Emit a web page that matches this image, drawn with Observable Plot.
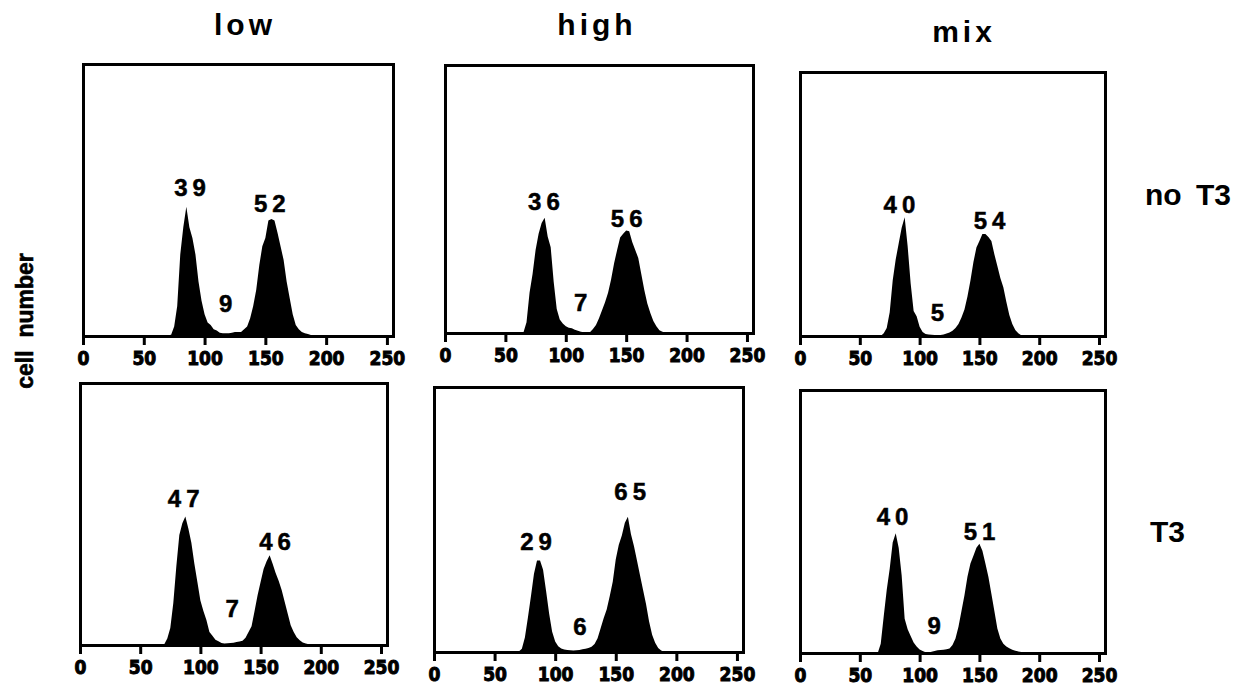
<!DOCTYPE html>
<html>
<head>
<meta charset="utf-8">
<script src="https://cdn.jsdelivr.net/npm/d3@7"></script>
<script src="https://cdn.jsdelivr.net/npm/@observablehq/plot@0.6"></script>
<style>
  html, body { margin: 0; padding: 0; background: #fff; }
  #root { position: relative; width: 1236px; height: 693px; overflow: hidden; background: #fff; color: #000;
          font-family: "Liberation Sans", Arial, sans-serif; font-weight: bold; }
  .panel { position: absolute; }
  .t { position: absolute; white-space: pre; line-height: 1; font-weight: bold; }
  .col { font-size: 30px; letter-spacing: 4px; transform: translateX(-50%); padding-left: 4px; }
  .row { font-size: 30px; word-spacing: 6px; }
  .ylab { font-size: 23px; transform: translate(-50%, -50%) rotate(-90deg); -webkit-text-stroke: 0.6px #000; }
  .panel svg g[aria-label="x-axis tick"] path, .panel svg .tick line { stroke-width: 3px; }
  .panel svg g[aria-label="x-axis tick label"] text, .panel svg .tick text {
      font-family: "Liberation Sans Narrow", "DejaVu Sans Condensed", sans-serif; font-size: 19px; font-weight: bold;
      stroke: #000; stroke-width: 0.9px; }
  .panel svg g[aria-label="text"] text { letter-spacing: 5px; stroke: #000; stroke-width: 0.5px; }
</style>
</head>
<body>
<div id="root"></div>
<script>
// ---- data ----
const columns = ["low", "high", "mix"];
const rows = ["no T3", "T3"];
const yTitle = "cell  number";
const xTicks = [0, 50, 100, 150, 200, 250];

// DNA-content channel (bin positions)
const channel = [60, 62.5, 65, 67.5, 70, 72.5, 75, 77.5, 80, 82.5,
                 85, 87.5, 90, 92.5, 95, 97.5, 100, 102.5, 105, 107.5,
                 110, 112.5, 115, 117.5, 120, 122.5, 125, 127.5, 130, 132.5,
                 135, 137.5, 140, 142.5, 145, 147.5, 150, 152.5, 155, 157.5,
                 160, 162.5, 165, 167.5, 170, 172.5, 175, 177.5, 180, 182.5,
                 185, 187.5, 190, 192.5, 195, 197.5, 200];

// cell number (as % of panel height)
const lowNoT3 = [0, 0, 0, 0, 0.3, 0.5, 3.5, 11, 30, 40,
                 47.5, 40, 36, 30, 20, 13, 8, 5, 4, 2.5,
                 2, 1.2, 1, 1, 1, 1.2, 1.5, 1.5, 1.5, 2.5,
                 3.5, 6.5, 11, 17, 26, 33, 36, 42.5, 43, 42.5,
                 38, 33, 28, 20, 14, 8, 4, 2.5, 1.5, 1,
                 0.7, 0.4, 0.2, 0, 0, 0, 0];
const highNoT3 = [0, 0, 0.3, 4, 15, 22, 31, 37, 41, 43,
                  36, 32, 19, 9, 5, 3.5, 2.5, 2, 1.8, 1.2,
                  0.8, 0.5, 0.3, 0.3, 0.3, 1.5, 3, 5.5, 8.5, 11.5,
                  15, 20, 26, 31, 35.6, 37, 38.2, 38, 34, 31,
                  28, 22, 16, 11, 7.5, 4.5, 2.5, 1, 0.5, 0.2,
                  0, 0, 0, 0, 0, 0, 0];
const mixNoT3 = [0, 0, 0, 0, 1, 3, 9, 21, 29, 35,
                 41, 45, 34, 20, 9.5, 7.5, 3.5, 1.5, 0.8, 0.6,
                 0.5, 0.4, 0.4, 0.4, 0.6, 0.9, 1.3, 2, 3, 4.5,
                 7, 10, 15, 21, 28, 33.5, 36, 38.6, 38.6, 37.5,
                 36, 31, 26.5, 22, 18.5, 13, 8, 4.5, 2.3, 1,
                 0.3, 0, 0, 0, 0, 0, 0];
const lowT3 = [0, 0, 0, 0, 0.3, 2.5, 6.5, 16, 30, 42,
               46.5, 49, 44.5, 39, 31, 24, 17, 13, 9.5, 5,
               3.5, 2, 1.4, 0.8, 0.6, 0.7, 0.8, 0.9, 1.1, 1.3,
               1.6, 2.8, 5, 7.2, 13, 19, 24, 29, 32, 34.3,
               31, 27.5, 24.5, 21, 16.5, 12, 7.5, 5, 3, 1.8,
               1, 0.6, 0.3, 0, 0, 0, 0];
const highT3 = [0, 0, 0, 0, 0.2, 1.2, 5.5, 13, 21, 29.5,
                34.5, 34.5, 31, 23, 14.5, 7.6, 4, 2.2, 1.3, 0.9,
                0.8, 0.7, 0.6, 0.7, 0.8, 1, 1.2, 1.5, 2, 3,
                5.2, 9, 12.7, 16, 21, 26.5, 35, 40.5, 44, 48.8,
                51, 44.5, 40, 34.5, 29, 23.5, 18, 11.5, 6.5, 3.5,
                1.5, 0.6, 0, 0, 0, 0, 0];
const mixT3 = [0, 0, 0, 3.5, 14, 24, 32, 42, 45.5, 40,
               29.5, 13, 9, 6.5, 4, 2.5, 1.3, 0.8, 0.3, 0.1,
               0.5, 0.8, 1, 1.1, 1.2, 1.4, 1.7, 3, 5.5, 10,
               16, 22, 29, 34, 37, 40, 41.5, 38.9, 34, 29,
               22.5, 16, 9.3, 5.5, 3.5, 2.5, 1.8, 1.2, 0.9, 0.6,
               0.4, 0.2, 0.1, 0, 0, 0, 0];

// phase percentages printed in each panel (G0/G1, S, G2/M)
const g1Pct = [39, 36, 40, 47, 29, 40];
const sPct  = [9, 7, 5, 7, 6, 9];
const g2Pct = [52, 56, 54, 46, 65, 51];

// ---- layout (not data) ----
const series = [lowNoT3, highNoT3, mixNoT3, lowT3, highT3, mixT3];
const labelAnchors = [
  [[87.6, 54.4], [117, 12], [153.3, 48.5]],
  [[81.5, 48.8], [112, 11.3], [150, 42.5]],
  [[82.7, 49.7], [114.4, 8.9], [158, 43.7]],
  [[85.7, 55.9], [126, 14], [161.6, 39.4]],
  [[83.8, 41.5], [120, 9.5], [161.5, 60.5]],
  [[77, 51.8], [111.8, 10.2], [149.7, 46.2]]
];
const frames = [
  {left: 83, top: 64, w: 310, h: 272},
  {left: 445, top: 65, w: 308, h: 268},
  {left: 800, top: 72, w: 305, h: 264},
  {left: 80, top: 383, w: 307, h: 262},
  {left: 434, top: 387, w: 309, h: 265},
  {left: 800, top: 390, w: 305, h: 263}
];
const colTitlePos = [{x: 243, top: 10}, {x: 595, top: 10}, {x: 962, top: 17}];
const rowTitlePos = [{x: 1145, top: 180}, {x: 1150, top: 517}];

const root = document.getElementById("root");
const mL = 14, mR = 14, mT = 4, mB = 42;
const hasAxisMark = typeof Plot.axisX === "function";

series.forEach((vals, i) => {
  const f = frames[i];
  const hist = channel.map((c, k) => ({x: c, y: vals[k]}));
  const pct = [g1Pct[i], sPct[i], g2Pct[i]];
  const labels = pct.map((p, k) => ({x: labelAnchors[i][k][0], y: labelAnchors[i][k][1], text: String(p)}));
  const axisOpts = {ticks: xTicks, tickSize: 9, tickPadding: 6, tickFormat: d => String(d), label: null};
  const marks = [
    Plot.areaY(hist, {x: "x", y: "y", fill: "#000", curve: "linear"}),
    Plot.frame({stroke: "#000", strokeWidth: 3}),
    Plot.text(labels, {x: "x", y: "y", text: "text", fill: "#000", fontSize: 24, fontWeight: "bold", fontFamily: "'Liberation Sans', Arial, sans-serif", dx: 2.5})
  ];
  if (hasAxisMark) marks.push(Plot.axisX({...axisOpts, strokeWidth: 3, fontSize: 19, fontWeight: "bold"}));
  const chart = Plot.plot({
    width: f.w + mL + mR,
    height: f.h + mT + mB,
    marginLeft: mL, marginRight: mR, marginTop: mT, marginBottom: mB,
    style: {background: "transparent", color: "#000", fontFamily: "'Liberation Sans Narrow', 'DejaVu Sans Condensed', sans-serif", fontSize: "19px", fontWeight: "bold", overflow: "visible"},
    x: hasAxisMark ? {domain: [0, 255]} : {domain: [0, 255], ...axisOpts},
    y: {domain: [0, 100], axis: null},
    marks
  });
  const wrap = document.createElement("div");
  wrap.className = "panel";
  wrap.style.left = (f.left - mL) + "px";
  wrap.style.top = (f.top - mT) + "px";
  wrap.appendChild(chart);
  root.appendChild(wrap);
});

columns.forEach((c, j) => {
  const d = document.createElement("div");
  d.className = "t col";
  d.textContent = c;
  d.style.left = colTitlePos[j].x + "px";
  d.style.top = colTitlePos[j].top + "px";
  root.appendChild(d);
});
rows.forEach((r, j) => {
  const d = document.createElement("div");
  d.className = "t row";
  d.textContent = r;
  d.style.left = rowTitlePos[j].x + "px";
  d.style.top = rowTitlePos[j].top + "px";
  root.appendChild(d);
});
const yl = document.createElement("div");
yl.className = "t ylab";
yl.textContent = yTitle;
yl.style.left = "25px";
yl.style.top = "321px";
root.appendChild(yl);
</script>
</body>
</html>
